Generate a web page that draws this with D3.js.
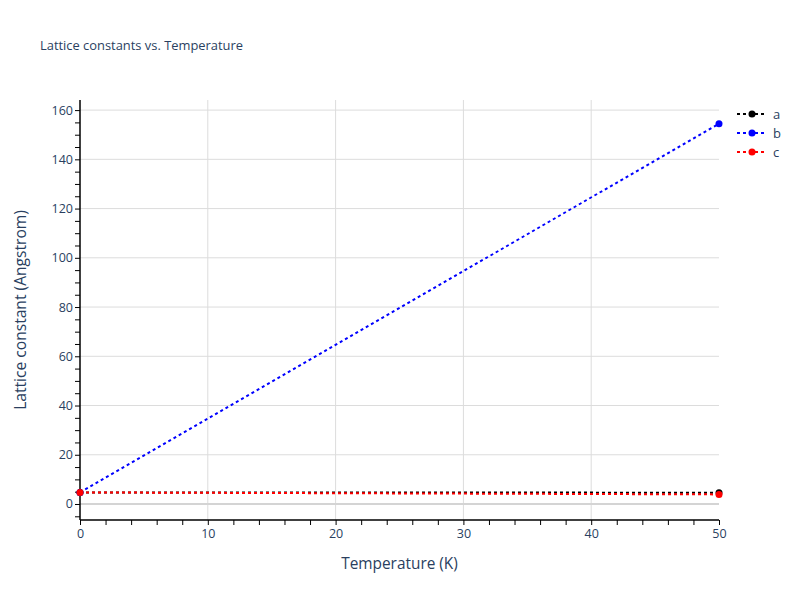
<!DOCTYPE html>
<html>
<head>
<meta charset="utf-8">
<script src="https://cdn.jsdelivr.net/npm/d3@7"></script>
<style>
  body { margin: 0; background: #fff; }
  text { font-family: "Open Sans", verdana, arial, sans-serif; fill: #2a3f5f; }
</style>
</head>
<body>
<div id="chart"></div>
<script>
// data
const temperature = [0, 50];
const latticeA = [4.7, 4.6];
const latticeB = [4.7, 154.5];
const latticeC = [4.7, 3.9];
const seriesNames = ["a", "b", "c"];
const seriesColors = ["black", "blue", "red"];
const xTicks = [0, 10, 20, 30, 40, 50];
const yTicks = [0, 20, 40, 60, 80, 100, 120, 140, 160];

const width = 800, height = 600;
const margin = { top: 100, right: 81, bottom: 80, left: 80 };

const svg = d3.select("#chart").append("svg")
    .attr("width", width)
    .attr("height", height);

const x = d3.scaleLinear().domain([0, 50]).range([margin.left, width - margin.right]);
const y = d3.scaleLinear().domain([-6.5, 164.1]).range([height - margin.bottom, margin.top]);

// grid
svg.append("g").selectAll("line").data(xTicks.slice(1, -1)).join("line")
    .attr("x1", d => x(d)).attr("x2", d => x(d))
    .attr("y1", margin.top).attr("y2", height - margin.bottom)
    .attr("stroke", "#dcdcdc").attr("stroke-width", 1);
svg.append("g").selectAll("line").data(yTicks.filter(d => d !== 0)).join("line")
    .attr("x1", margin.left).attr("x2", width - margin.right)
    .attr("y1", d => y(d)).attr("y2", d => y(d))
    .attr("stroke", "#dcdcdc").attr("stroke-width", 1);
// zero line
svg.append("line")
    .attr("x1", margin.left).attr("x2", width - margin.right)
    .attr("y1", y(0)).attr("y2", y(0))
    .attr("stroke", "#d4d4d4").attr("stroke-width", 2);

// axes
const xAxis = svg.append("g")
    .attr("transform", `translate(0,${height - margin.bottom})`)
    .call(d3.axisBottom(x).tickValues(d3.range(0, 51, 2)).tickSize(5).tickFormat(d => xTicks.includes(d) ? d : ""));
const yAxis = svg.append("g")
    .attr("transform", `translate(${margin.left},0)`)
    .call(d3.axisLeft(y).tickValues(d3.range(-5, 165, 5)).tickSize(5).tickFormat(d => yTicks.includes(d) ? d : ""));

[xAxis, yAxis].forEach(g => {
    g.select(".domain").attr("stroke", "#000").attr("stroke-width", 1.5);
    g.selectAll(".tick line").attr("stroke", "#000").attr("stroke-width", 1);
    g.selectAll(".tick text").attr("font-size", 12.5).style("fill", "#2a3f5f")
        .style("font-family", '"Open Sans", verdana, arial, sans-serif');
});
xAxis.select(".domain").attr("d", `M${margin.left},0H${width - margin.right}`);
yAxis.select(".domain").attr("d", `M0,${margin.top}V${height - margin.bottom}`);
xAxis.selectAll(".tick text").attr("dy", "0.9em").attr("y", 7);
yAxis.selectAll(".tick text").attr("x", -7);

// series
const series = [latticeA, latticeB, latticeC].map((vals, i) => ({
    name: seriesNames[i],
    color: seriesColors[i],
    points: temperature.map((t, j) => [t, vals[j]])
}));

const line = d3.line().x(d => x(d[0])).y(d => y(d[1]));

const plot = svg.append("g");
series.forEach(s => {
    plot.append("path")
        .attr("d", line(s.points))
        .attr("fill", "none")
        .attr("stroke", s.color)
        .attr("stroke-width", 2)
        .attr("stroke-dasharray", "3,3");
    plot.selectAll(null).data(s.points).join("circle")
        .attr("cx", d => x(d[0])).attr("cy", d => y(d[1]))
        .attr("r", 3.5)
        .attr("fill", s.color);
});

// legend
const legend = svg.append("g").attr("transform", "translate(737,114)");
const items = legend.selectAll("g").data(series).join("g")
    .attr("transform", (d, i) => `translate(0,${i * 19})`);
items.append("line")
    .attr("x1", 0).attr("x2", 30).attr("y1", 0).attr("y2", 0)
    .attr("stroke", d => d.color).attr("stroke-width", 2)
    .attr("stroke-dasharray", "3,3");
items.append("circle").attr("cx", 15).attr("cy", 0).attr("r", 3.5).attr("fill", d => d.color);
items.append("text").attr("x", 36).attr("y", 4.5).attr("font-size", 13).text(d => d.name);

// titles
svg.append("text").attr("x", 40).attr("y", 50).attr("font-size", 12.9)
    .text("Lattice constants vs. Temperature");
svg.append("text").attr("x", (margin.left + width - margin.right) / 2).attr("y", 569)
    .attr("text-anchor", "middle").attr("font-size", 15.4)
    .text("Temperature (K)");
svg.append("text")
    .attr("transform", `translate(26,${(margin.top + height - margin.bottom) / 2}) rotate(-90)`)
    .attr("text-anchor", "middle").attr("font-size", 15.6)
    .text("Lattice constant (Angstrom)");
</script>
</body>
</html>
